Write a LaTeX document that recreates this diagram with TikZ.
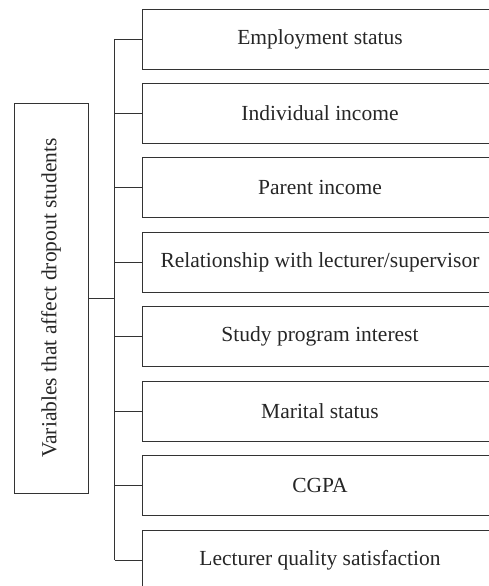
\documentclass[tikz,border=0pt]{standalone}
\usepackage{fontspec}
\setmainfont{Liberation Serif}
\begin{document}
\begin{tikzpicture}[x=1pt,y=1pt,
    varbox/.style={draw=black!80,line width=0.8pt,text=black!85,minimum width=356pt,minimum height=60pt,inner sep=0pt,font=\fontsize{21.5}{25}\selectfont},
    mainbox/.style={varbox,minimum width=390pt,minimum height=74pt,rotate=90}]
    \useasboundingbox (0,0) rectangle (489,-586);
    \node[mainbox] (main) at (51,-298) {Variables that affect dropout students};
    \foreach \t [count=\i] in {Employment status,Individual income,Parent income,{Relationship with lecturer/supervisor},Study program interest,Marital status,CGPA,Lecturer quality satisfaction}
        \node[varbox] (v\i) at (320,{-39-74.43*(\i-1)}) {\t};
    \coordinate (trunk) at ([xshift=-27pt]v1.west); % vertical bus
    \draw[black!80,line width=0.8pt] (v1.west -| trunk) -- (v8.west -| trunk);
    \draw[black!80,line width=0.8pt] (main.south) -- (main.south -| trunk);
    \foreach \i in {1,...,8}
        \draw[black!80,line width=0.8pt] (v\i.west -| trunk) -- (v\i.west);
\end{tikzpicture}
\end{document}
